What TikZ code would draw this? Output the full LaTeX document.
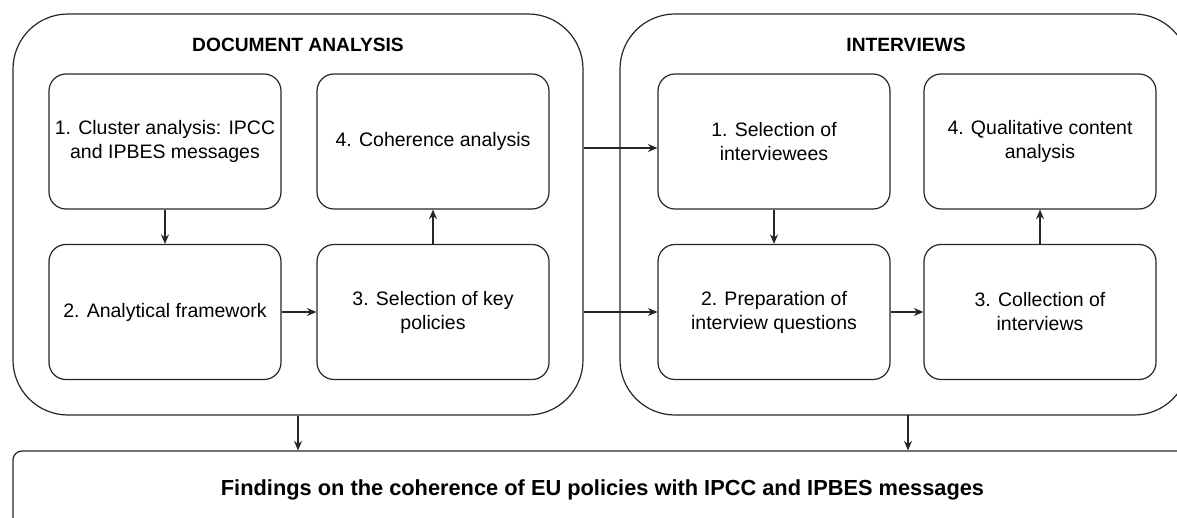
\documentclass[tikz,border=0pt]{standalone}
\usepackage{fontspec}
\setmainfont{Liberation Sans}
\usetikzlibrary{arrows.meta,calc}
\begin{document}
\begin{tikzpicture}[x=1pt,y=-1pt,
  line width=1.2pt,
  bigbox/.style={draw=black!85, rounded corners=55pt, inner sep=0pt},
  stepbox/.style={draw=black!85, rounded corners=17pt, minimum width=232pt, minimum height=135pt,
    align=center, inner sep=0pt, font=\fontsize{19.5}{24}\selectfont},
  titletext/.style={font=\bfseries\fontsize{19.2}{22}\selectfont, anchor=base, inner sep=0pt},
  arr/.style={draw=black!85, -{Stealth[length=9.5pt,width=8pt]}}
]
\useasboundingbox (0,0) rectangle (1177,518);
\clip (0,0) rectangle (1177,518);
% big boxes
\node[bigbox, minimum width=570pt, minimum height=401pt] (L) at (298,214.5) {};
\node[bigbox, minimum width=569pt, minimum height=401pt] (R) at (904.5,214.5) {};
\node[titletext] (Lt) at (298,52) {DOCUMENT ANALYSIS};
\node[titletext] (Rt) at (906,52) {INTERVIEWS};
% left steps
\node[stepbox] (b1) at (165,141.5) {1. Cluster analysis: IPCC\\and IPBES messages};
\node[stepbox] (b4) at (433,141.5) {4. Coherence analysis};
\node[stepbox] (b2) at (165,312) {2. Analytical framework};
\node[stepbox] (b3) at (433,312) {3. Selection of key\\policies};
% right steps
\node[stepbox] (r1) at (774,141.5) {1. Selection of\\interviewees};
\node[stepbox] (r4) at (1040,141.5) {4. Qualitative content\\analysis};
\node[stepbox] (r2) at (774,312) {2. Preparation of\\interview questions};
\node[stepbox] (r3) at (1040,312) {3. Collection of\\interviews};
% bottom box
\node[draw=black!85, rounded corners=9pt, minimum width=1179pt, minimum height=76pt, inner sep=0pt] (F) at (602.5,489) {};
\node[font=\bfseries\fontsize{21.8}{25}\selectfont, inner sep=0pt, anchor=base] (Ft) at (602.5,495.5) {Findings on the coherence of EU policies with IPCC and IPBES messages};
% arrows left
\draw[arr] (b1.south) -- (b2.north);
\draw[arr] (b2.east) -- (b3.west);
\draw[arr] (b3.north) -- (b4.south);
% arrows right
\draw[arr] (r1.south) -- (r2.north);
\draw[arr] (r2.east) -- (r3.west);
\draw[arr] (r3.north) -- (r4.south);
% between big boxes
\coordinate (c1) at (583.6,148);
\draw[arr] (c1) -- (c1 -| r1.west);
\draw[arr] (L.east |- b3.east) -- (r2.west);
% to findings
\draw[arr] (L.south) -- (L.south |- F.north);
\coordinate (c2) at (908,415);
\draw[arr] (c2) -- (c2 |- F.north);
\end{tikzpicture}
\end{document}
